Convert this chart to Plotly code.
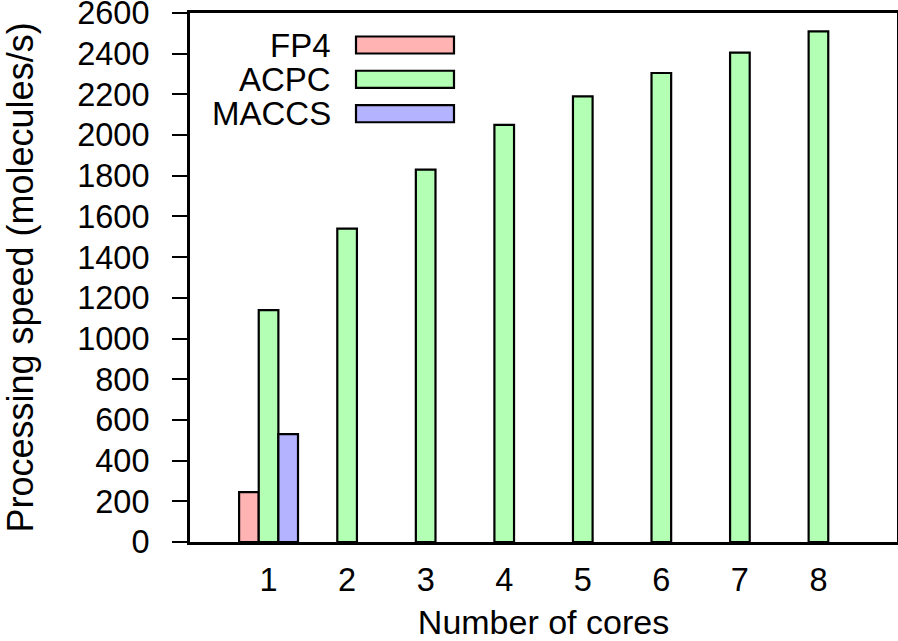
import plotly.graph_objects as go

cores = [1, 2, 3, 4, 5, 6, 7, 8]
fp4_x = [1]
fp4_values = [245]
acpc_values = [1140, 1540, 1830, 2050, 2190, 2305, 2405, 2510]
maccs_x = [1]
maccs_values = [530]
series_names = ["FP4", "ACPC", "MACCS"]
series_colors = ["#ffb3b3", "#b3ffb3", "#b3b3ff"]
y_ticks = list(range(0, 2601, 200))

FONT = "Liberation Sans, Arial, Helvetica, sans-serif"
FS = 33

fig = go.Figure()
line = dict(color="black", width=2.2)
fig.add_trace(go.Bar(x=fp4_x, y=fp4_values, name=series_names[0],
                     marker=dict(color=series_colors[0], line=line)))
fig.add_trace(go.Bar(x=cores, y=acpc_values, name=series_names[1],
                     marker=dict(color=series_colors[1], line=line)))
fig.add_trace(go.Bar(x=maccs_x, y=maccs_values, name=series_names[2],
                     marker=dict(color=series_colors[2], line=line)))

# custom legend (text right-aligned, sample box on the right, gnuplot style)
row_y = [0.9395, 0.8747, 0.8096]
half_h = 0.0161
for name, color, yc in zip(series_names, series_colors, row_y):
    fig.add_shape(type="rect", xref="paper", yref="paper",
                  x0=0.2348, x1=0.3734, y0=yc - half_h, y1=yc + half_h,
                  fillcolor=color, line=dict(color="black", width=2.2))
    fig.add_annotation(xref="paper", yref="paper", x=0.2023, y=yc,
                       text=name, showarrow=False, xanchor="right", yanchor="middle",
                       font=dict(family=FONT, size=FS, color="black"))

fig.update_layout(
    width=898, height=641,
    margin=dict(l=190, r=1, t=13, b=99),
    paper_bgcolor="white", plot_bgcolor="white",
    barmode="group", bargap=0.25, bargroupgap=0,
    showlegend=False,
    font=dict(family=FONT, size=32.5, color="black"),
)
fig.update_xaxes(
    automargin=False,
    range=[0, 9], tickvals=cores, ticktext=[str(c) for c in cores],
    ticks="", showline=True, linecolor="black", linewidth=3, mirror=True,
    showgrid=False, zeroline=False, ticklabelstandoff=7,
    ticklabeloverflow="allow",
    title=dict(text="Number of cores", standoff=27, font=dict(size=34)),
)
fig.update_yaxes(
    automargin=False,
    range=[0, 2600], tickvals=y_ticks,
    ticks="outside", ticklen=15, tickwidth=2, tickcolor="black",
    showline=True, linecolor="black", linewidth=3, mirror=True,
    showgrid=False, zeroline=False, ticklabelstandoff=16,
    ticklabeloverflow="allow",
    title=dict(text="Processing speed (molecules/s)", standoff=42, font=dict(size=36)),
)

fig.write_html(
    "out.html",
    config={"displayModeBar": False},
    post_script="document.body.style.margin='0';document.body.style.overflow='hidden';",
)
